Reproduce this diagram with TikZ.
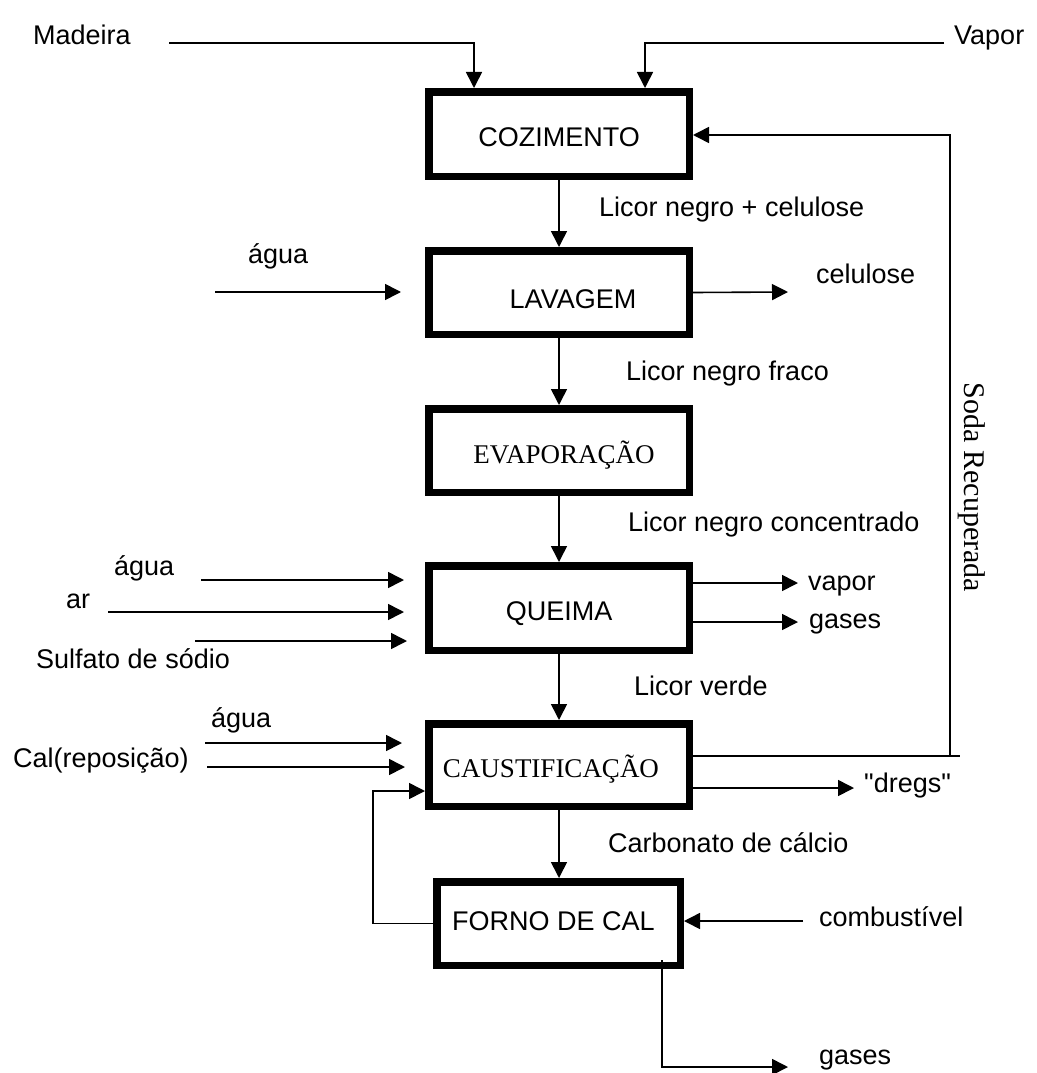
\documentclass[tikz,border=0pt]{standalone}
\usepackage{fontspec}
\setmainfont{Liberation Sans}
\newfontfamily\rawsans[Ligatures=TeXOff]{Liberation Sans}
\newfontfamily\timesfont{Liberation Serif}
\usetikzlibrary{arrows.meta}

\begin{document}
\begin{tikzpicture}[x=1pt,y=-1pt,
  flow/.style={line width=1.6pt},
  arr/.style={flow,-{Triangle[length=16pt,width=16pt]}},
  proc/.style={draw,line width=7.5pt,inner sep=0pt,outer sep=3.75pt,
    font=\fontsize{27}{30}\selectfont,text height=25pt,text depth=0pt},
  serif/.style={font=\timesfont\fontsize{27}{30}\selectfont},
  lbl/.style={anchor=base west,inner sep=0pt,font=\fontsize{27}{30}\selectfont},
]
\useasboundingbox (0,0) rectangle (1036,1073);

% process blocks
\node[proc,minimum width=260.5pt,minimum height=84.5pt] (coz) at (559,134) {COZIMENTO};
\node[proc,minimum width=260.5pt,minimum height=83.5pt] (lav) at (559,292.5) {\hspace*{28pt}\raisebox{-3.6pt}{LAVAGEM}};
\node[proc,serif,minimum width=260.5pt,minimum height=83.5pt] (evap) at (559,450.5) {\hspace*{10pt}EVAPORAÇÃO};
\node[proc,minimum width=260.5pt,minimum height=84.5pt] (queima) at (559,608) {QUEIMA};
\node[proc,serif,minimum width=260.5pt,minimum height=82.5pt] (caust) at (559,765) {CAUSTIFICAÇÃO\hspace*{16pt}};
\node[proc,minimum width=243.5pt,minimum height=83.5pt] (forno) at (558.5,923.5) {\raisebox{6pt}{FORNO DE CAL}\hspace*{10pt}};

% stream labels
\node[lbl] (madeira) at (33,45) {Madeira};
\node[lbl] (vaporin) at (954,45) {Vapor};
\node[lbl] (l1) at (599,216) {Licor negro + celulose};
\node[lbl] (agua1) at (248,263) {água};
\node[lbl] (celulose) at (816,283) {celulose};
\node[lbl] (l2) at (626,380) {Licor negro fraco};
\node[lbl] (l3) at (628,531) {Licor negro concentrado};
\node[lbl] (agua2) at (114,575) {água};
\node[lbl] (ar) at (66,608) {ar};
\node[lbl] (sulfato) at (36,668) {Sulfato de sódio};
\node[lbl] (vaporout) at (808,590) {vapor};
\node[lbl] (gases1) at (809,628) {gases};
\node[lbl] (l4) at (634,695) {Licor verde};
\node[lbl] (agua3) at (211,727) {água};
\node[lbl] (cal) at (13,767) {Cal(reposição)};
\node[lbl,font=\rawsans\fontsize{27}{30}\selectfont] (dregs) at (864,792) {"dregs"};
\node[lbl] (l5) at (608,852) {Carbonato de cálcio};
\node[lbl] (comb) at (819,926) {combustível};
\node[lbl] (gases2) at (819,1064) {gases};
\node[rotate=-90,inner sep=0pt,font=\timesfont\fontsize{30}{32}\selectfont] (soda) at (972,487.5) {Soda Recuperada};

% free ends of the streams
\coordinate (m0) at (169,43);
\coordinate (v0) at (944,43);
\coordinate (a1s) at (215,292);  \coordinate (a1e) at (401,292);
\coordinate (celEnd) at (788,292);
\coordinate (a2s) at (201,580);  \coordinate (a2e) at (404,580);
\coordinate (ars) at (108,612);  \coordinate (are) at (404,612);
\coordinate (sus) at (195,641);  \coordinate (sue) at (407,641);
\coordinate (vapEnd) at (798,583);
\coordinate (gasEnd) at (798,622);
\coordinate (a3s) at (205,743);  \coordinate (a3e) at (402,743);
\coordinate (cas) at (207,767);  \coordinate (cae) at (405,767);
\coordinate (dregEnd) at (854,788);
\coordinate (sodaCorner) at (950,756);
\coordinate (sodaEnd) at (960,756);
\coordinate (loop) at (373,791);
\coordinate (combStart) at (803,921);
\coordinate (g0) at (662,960);
\coordinate (gEnd) at (788,1067);

% feeds into cooking
\draw[arr] (m0) -| ([xshift=49pt]coz.north west);
\draw[arr] (v0) -| ([xshift=-48pt]coz.north east);

% main line
\draw[arr] (coz) -- (lav);
\draw[arr] (lav) -- (evap);
\draw[arr] (evap) -- (queima);
\draw[arr] (queima) -- (caust);
\draw[arr] (caust.south) -- (forno.north -| caust.south);

% washing
\draw[arr] (a1s) -- (a1e);
\draw[arr] (lav.east) -- (celEnd);

% recovery boiler
\draw[arr] (a2s) -- (a2e);
\draw[arr] (ars) -- (are);
\draw[arr] (sus) -- (sue);
\draw[arr] ([yshift=25pt]queima.east) -- (vapEnd);
\draw[arr] ([yshift=-14pt]queima.east) -- (gasEnd);

% causticizing
\draw[arr] (a3s) -- (a3e);
\draw[arr] (cas) -- (cae);
\draw[arr] ([yshift=-23pt]caust.east) -- (dregEnd);
\draw[flow] ([yshift=9pt]caust.east) -- (sodaEnd);
\draw[arr] (sodaCorner) |- ([yshift=-1pt]coz.east);

% lime kiln
\draw[arr] (forno.west) -| (loop) -- ([yshift=-26pt]caust.west);
\draw[arr] (combStart) -- ([yshift=2.5pt]forno.east);
\draw[arr] (g0) |- (gEnd);
\end{tikzpicture}
\end{document}
